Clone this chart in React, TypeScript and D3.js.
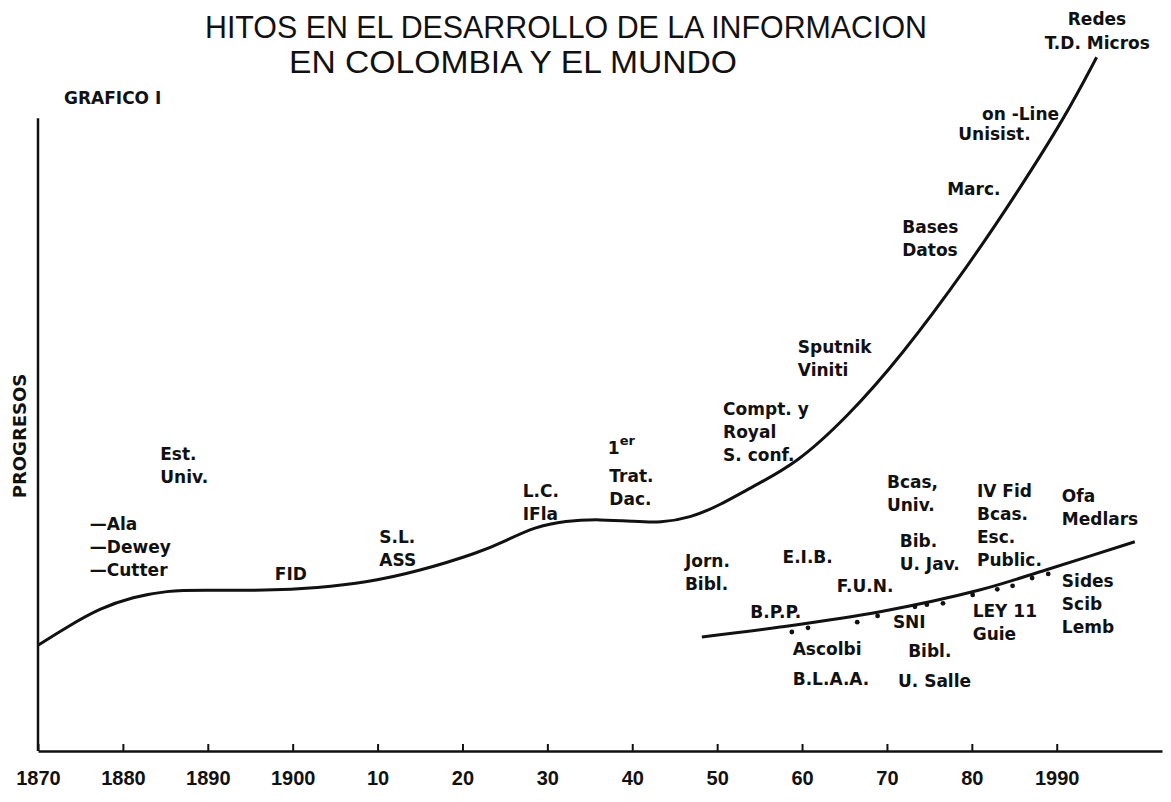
import { useEffect, useRef } from "react";
import * as d3 from "d3";

// Curva mundial (año, progreso)
const worldYears = [
  1870, 1873.4, 1877.3, 1881.2, 1885.2, 1889.1, 1897.0, 1902.9, 1908.8, 1914.6,
  1922.1, 1925.2, 1928.5, 1932.1, 1936.2, 1940.3, 1943.3, 1946.8, 1950.3,
  1953.9, 1959.4, 1965.3, 1971.5, 1979.8, 1985.4, 1991.0, 1994.7,
];
const worldProgress = [
  15.1, 17.7, 20.4, 22.0, 22.9, 23.0, 22.9, 23.3, 24.1, 25.6, 28.4, 30.1, 32.0,
  32.9, 33.1, 32.8, 32.6, 33.3, 35.1, 37.6, 41.1, 47.7, 56.1, 69.7, 79.9,
  90.6, 99.1,
];

// Curva Colombia
const colombiaYears = [1948.2, 1957.4, 1969.2, 1980.9, 1988.8, 1999.2];
const colombiaProgress = [16.3, 17.7, 19.9, 23.0, 25.9, 29.9];

// Hitos colombianos (puntos)
const dotYears = [
  1958.8, 1960.7, 1966.5, 1968.9, 1973.3, 1974.7, 1976.6, 1980.1, 1983.0,
  1984.8, 1987.1, 1989.0,
];
const dotProgress = [
  17.0, 17.6, 18.4, 19.3, 20.6, 20.9, 21.1, 22.3, 23.1, 23.6, 24.7, 25.3,
];

const tickYears = [1870, 1880, 1890, 1900, 1910, 1920, 1930, 1940, 1950, 1960, 1970, 1980, 1990];
const tickLabels = ["1870", "1880", "1890", "1900", "10", "20", "30", "40", "50", "60", "70", "80", "1990"];

// Anotaciones: líneas de texto, año y progreso de la primera línea (borde izquierdo)
const labels = [
  { lines: ["—Ala", "—Dewey", "—Cutter"], year: 1876.1, progress: 31.6 },
  { lines: ["Est.", "Univ."], year: 1884.4, progress: 41.6 },
  { lines: ["FID"], year: 1897.9, progress: 24.4 },
  { lines: ["S.L.", "ASS"], year: 1910.2, progress: 29.7 },
  { lines: ["L.C.", "IFla"], year: 1927.1, progress: 36.3 },
  { lines: ["Trat.", "Dac."], year: 1937.3, progress: 38.4 },
  { lines: ["Compt. y", "Royal", "S. conf."], year: 1950.7, progress: 48.0 },
  { lines: ["Sputnik", "Viniti"], year: 1959.5, progress: 56.9 },
  { lines: ["Bases", "Datos"], year: 1971.8, progress: 74.0 },
  { lines: ["Marc."], year: 1977.1, progress: 79.4 },
  { lines: ["on -Line"], year: 1981.2, progress: 90.1 },
  { lines: ["Unisist."], year: 1978.4, progress: 87.3 },
  { lines: ["Redes"], year: 1991.3, progress: 103.7 },
  { lines: ["T.D. Micros"], year: 1988.6, progress: 100.3 },
  { lines: ["Jorn.", "Bibl."], year: 1946.2, progress: 26.3 },
  { lines: ["E.I.B."], year: 1957.7, progress: 26.9 },
  { lines: ["F.U.N."], year: 1964.1, progress: 22.7 },
  { lines: ["B.P.P."], year: 1953.9, progress: 19.0 },
  { lines: ["Ascolbi"], year: 1958.9, progress: 13.7 },
  { lines: ["B.L.A.A."], year: 1958.9, progress: 9.4 },
  { lines: ["SNI"], year: 1970.7, progress: 17.6 },
  { lines: ["Bibl."], year: 1972.5, progress: 13.4 },
  { lines: ["U. Salle"], year: 1971.3, progress: 9.1 },
  { lines: ["Bcas,", "Univ."], year: 1970.0, progress: 37.6 },
  { lines: ["Bib.", "U. Jav."], year: 1971.5, progress: 29.1 },
  { lines: ["IV Fid", "Bcas.", "Esc.", "Public."], year: 1980.6, progress: 36.3 },
  { lines: ["Ofa", "Medlars"], year: 1990.6, progress: 35.6 },
  { lines: ["Sides", "Scib", "Lemb"], year: 1990.6, progress: 23.4 },
  { lines: ["LEY 11", "Guie"], year: 1980.1, progress: 19.1 },
];

// "1er" (primer tratado) con exponente
const primerYear = 1937.1;
const primerProgress = 42.4;

const W = 1171;
const H = 802;

const App = () => {
  const ref = useRef(null);

  useEffect(() => {
    if (!ref.current) return;
    const svg = d3.select(ref.current);
    svg.selectAll("*").remove();

    const x = d3.scaleLinear().domain([1870, 2002.4]).range([38, 1162]);
    const y = d3.scaleLinear().domain([0, 100]).range([751, 51]);

    svg.append("rect").attr("width", W).attr("height", H).attr("fill", "#fff");

    // Título
    const title = svg
      .append("g")
      .style("font-family", "'Liberation Sans', Arial, sans-serif")
      .style("font-size", "31px")
      .attr("fill", "#111");
    title
      .append("text")
      .attr("x", 205)
      .attr("y", 38)
      .attr("textLength", 722)
      .attr("lengthAdjust", "spacingAndGlyphs")
      .text("HITOS EN EL DESARROLLO DE LA INFORMACION");
    title
      .append("text")
      .attr("x", 289)
      .attr("y", 73)
      .attr("textLength", 448)
      .attr("lengthAdjust", "spacingAndGlyphs")
      .text("EN COLOMBIA Y EL MUNDO");

    const bold = "'DejaVu Sans', sans-serif";

    svg
      .append("text")
      .attr("x", 64)
      .attr("y", 104)
      .style("font-family", bold)
      .style("font-weight", "bold")
      .style("font-size", "17px")
      .attr("fill", "#111")
      .text("GRAFICO I");

    svg
      .append("text")
      .attr("transform", `translate(26, ${436}) rotate(-90)`)
      .attr("text-anchor", "middle")
      .style("font-family", bold)
      .style("font-weight", "bold")
      .style("font-size", "18px")
      .attr("fill", "#111")
      .text("PROGRESOS");

    // Eje Y
    svg
      .append("line")
      .attr("x1", x(1870))
      .attr("x2", x(1870))
      .attr("y1", y(0))
      .attr("y2", y(90.4))
      .attr("stroke", "#111")
      .attr("stroke-width", 2.5);

    // Eje X
    const xAxis = svg
      .append("g")
      .attr("transform", `translate(0, ${y(0)})`)
      .call(
        d3
          .axisBottom(x)
          .tickValues(tickYears)
          .tickSizeInner(-7)
          .tickSizeOuter(0)
          .tickFormat((d, i) => tickLabels[i])
      );
    xAxis.select(".domain").attr("stroke", "#111").attr("stroke-width", 2.5);
    xAxis.selectAll(".tick line").attr("stroke", "#111").attr("stroke-width", 2);
    xAxis
      .selectAll(".tick text")
      .attr("y", 34)
      .attr("dy", 0)
      .attr("fill", "#111")
      .style("font-family", "'Liberation Sans', Arial, sans-serif")
      .style("font-weight", "bold")
      .style("font-size", "20px");

    const line = d3
      .line()
      .x((d) => x(d[0]))
      .y((d) => y(d[1]))
      .curve(d3.curveBasis);

    svg
      .append("path")
      .attr("d", line(worldYears.map((yr, i) => [yr, worldProgress[i]])))
      .attr("fill", "none")
      .attr("stroke", "#111")
      .attr("stroke-width", 3);

    svg
      .append("path")
      .attr(
        "d",
        line.curve(d3.curveCatmullRom.alpha(0.5))(
          colombiaYears.map((yr, i) => [yr, colombiaProgress[i]])
        )
      )
      .attr("fill", "none")
      .attr("stroke", "#111")
      .attr("stroke-width", 3);

    svg
      .selectAll(".hito")
      .data(dotYears.map((yr, i) => [yr, dotProgress[i]]))
      .enter()
      .append("circle")
      .attr("class", "hito")
      .attr("cx", (d) => x(d[0]))
      .attr("cy", (d) => y(d[1]))
      .attr("r", 2.4)
      .attr("fill", "#111");

    // Etiquetas
    const lh = 23;
    const g = svg
      .append("g")
      .style("font-family", bold)
      .style("font-weight", "bold")
      .style("font-size", "17px")
      .attr("fill", "#111");

    labels.forEach((lab) => {
      const t = g.append("text").attr("x", x(lab.year)).attr("y", y(lab.progress));
      lab.lines.forEach((ln, i) => {
        t.append("tspan")
          .attr("x", x(lab.year))
          .attr("dy", i === 0 ? 0 : lh)
          .text(ln);
      });
    });

    g.append("text")
      .attr("x", x(primerYear))
      .attr("y", y(primerProgress))
      .text("1");
    g.append("text")
      .attr("x", x(primerYear) + 12)
      .attr("y", y(primerProgress) - 9)
      .style("font-size", "13px")
      .text("er");
  }, []);

  return (
    <svg
      ref={ref}
      width={W}
      height={H}
      style={{ position: "absolute", left: 0, top: 0 }}
    />
  );
};

export default App;
